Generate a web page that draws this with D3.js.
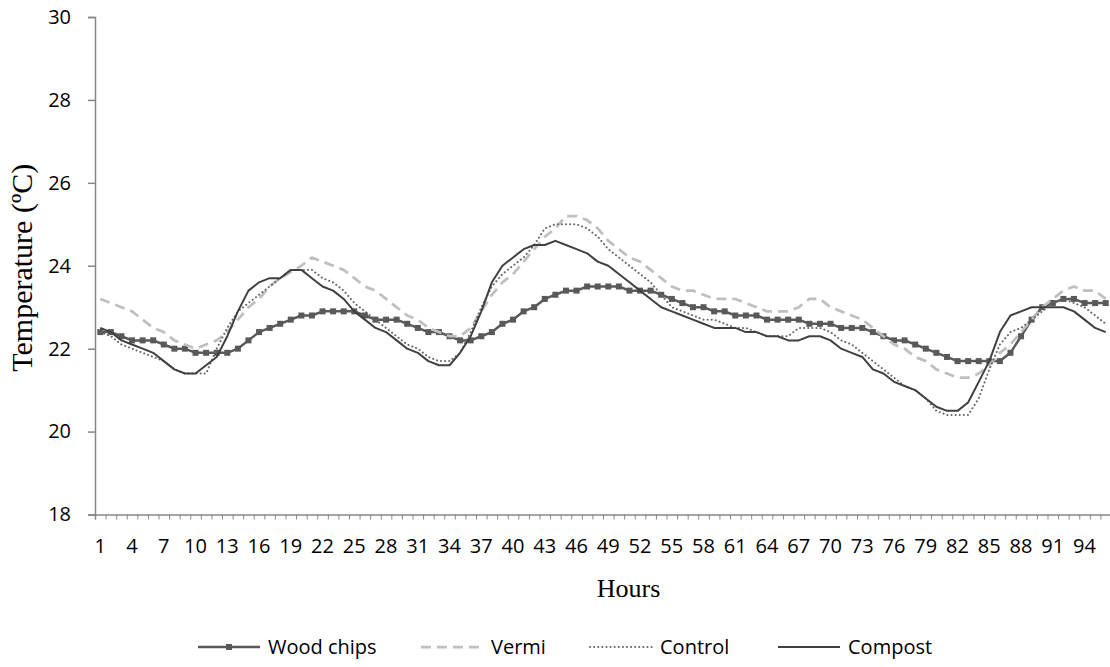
<!DOCTYPE html>
<html>
<head>
<meta charset="utf-8">
<script src="https://cdn.jsdelivr.net/npm/d3@7"></script>
<style>
  html, body { margin: 0; padding: 0; background: #fff; }
  svg { display: block; }
  .tick text { font-family: "Open Sans", sans-serif; }
</style>
</head>
<body>
<svg id="chart" width="1110" height="667"></svg>
<script>
// Hourly temperature readings (ºC) for the four treatments, hours 1-96
const hours = d3.range(1, 97);

const woodChips = [
  22.4, 22.4, 22.3, 22.2, 22.2, 22.2, 22.1, 22.0, 22.0, 21.9, 21.9, 21.9,
  21.9, 22.0, 22.2, 22.4, 22.5, 22.6, 22.7, 22.8, 22.8, 22.9, 22.9, 22.9,
  22.9, 22.8, 22.7, 22.7, 22.7, 22.6, 22.5, 22.4, 22.4, 22.3, 22.2, 22.2,
  22.3, 22.4, 22.6, 22.7, 22.9, 23.0, 23.2, 23.3, 23.4, 23.4, 23.5, 23.5,
  23.5, 23.5, 23.4, 23.4, 23.4, 23.3, 23.2, 23.1, 23.0, 23.0, 22.9, 22.9,
  22.8, 22.8, 22.8, 22.7, 22.7, 22.7, 22.7, 22.6, 22.6, 22.6, 22.5, 22.5,
  22.5, 22.4, 22.3, 22.2, 22.2, 22.1, 22.0, 21.9, 21.8, 21.7, 21.7, 21.7,
  21.7, 21.7, 21.9, 22.3, 22.7, 23.0, 23.1, 23.2, 23.2, 23.1, 23.1, 23.1
];

const vermi = [
  23.2, 23.1, 23.0, 22.9, 22.7, 22.5, 22.4, 22.2, 22.1, 22.0, 22.1, 22.2,
  22.4, 22.7, 23.0, 23.2, 23.5, 23.7, 23.85, 24.0, 24.2, 24.1, 24.0, 23.9,
  23.7, 23.5, 23.4, 23.2, 23.0, 22.8, 22.7, 22.5, 22.4, 22.3, 22.3, 22.5,
  22.9, 23.3, 23.6, 23.8, 24.1, 24.4, 24.7, 24.9, 25.2, 25.2, 25.1, 24.9,
  24.6, 24.4, 24.2, 24.1, 23.9, 23.7, 23.5, 23.4, 23.4, 23.3, 23.2, 23.2,
  23.2, 23.1, 23.0, 22.9, 22.9, 22.9, 23.0, 23.2, 23.2, 23.0, 22.9, 22.8,
  22.7, 22.5, 22.3, 22.1, 22.0, 21.8, 21.7, 21.5, 21.4, 21.3, 21.3, 21.4,
  21.6, 21.9, 22.1, 22.4, 22.7, 23.0, 23.2, 23.4, 23.5, 23.4, 23.4, 23.2
];

const control = [
  22.4, 22.3, 22.1, 22.0, 21.9, 21.8, 21.7, 21.5, 21.4, 21.4, 21.4, 22.0,
  22.5, 22.9, 23.1, 23.3, 23.5, 23.7, 23.9, 23.9, 23.9, 23.7, 23.6, 23.4,
  23.1, 22.9, 22.7, 22.5, 22.3, 22.1, 22.0, 21.8, 21.7, 21.7, 21.9, 22.4,
  23.0, 23.5, 23.8, 24.0, 24.2, 24.5, 24.9, 25.0, 25.0, 25.0, 24.9, 24.7,
  24.4, 24.2, 24.0, 23.8, 23.6, 23.3, 23.0, 22.9, 22.8, 22.7, 22.7, 22.6,
  22.5, 22.5, 22.4, 22.3, 22.3, 22.3, 22.5, 22.5, 22.5, 22.4, 22.2, 22.1,
  21.9, 21.7, 21.5, 21.3, 21.1, 21.0, 20.8, 20.5, 20.4, 20.4, 20.4, 20.8,
  21.5, 22.1, 22.4, 22.5, 22.7, 22.9, 23.1, 23.2, 23.1, 23.0, 22.8, 22.6
];

const compost = [
  22.5, 22.4, 22.2, 22.1, 22.0, 21.9, 21.7, 21.5, 21.4, 21.4, 21.6, 21.8,
  22.3, 22.9, 23.4, 23.6, 23.7, 23.7, 23.9, 23.9, 23.7, 23.5, 23.4, 23.2,
  22.9, 22.7, 22.5, 22.4, 22.2, 22.0, 21.9, 21.7, 21.6, 21.6, 21.9, 22.3,
  22.9, 23.6, 24.0, 24.2, 24.4, 24.5, 24.5, 24.6, 24.5, 24.4, 24.3, 24.1,
  24.0, 23.8, 23.6, 23.4, 23.2, 23.0, 22.9, 22.8, 22.7, 22.6, 22.5, 22.5,
  22.5, 22.4, 22.4, 22.3, 22.3, 22.2, 22.2, 22.3, 22.3, 22.2, 22.0, 21.9,
  21.8, 21.5, 21.4, 21.2, 21.1, 21.0, 20.8, 20.6, 20.5, 20.5, 20.7, 21.2,
  21.7, 22.4, 22.8, 22.9, 23.0, 23.0, 23.0, 23.0, 22.9, 22.7, 22.5, 22.4
];

const yTicks = [18, 20, 22, 24, 26, 28, 30];
const xLabelHours = hours.filter(h => (h - 1) % 3 === 0);

const seriesNames = ["Wood chips", "Vermi", "Control", "Compost"];

// Drawing styles per series
const styles = {
  "Wood chips": { color: "#595959", width: 2.5, dash: null, cap: "butt", marker: true },
  "Vermi":      { color: "#bfbfbf", width: 2.75, dash: "10,6", cap: "butt", marker: false },
  "Control":    { color: "#666666", width: 2, dash: "0.1,4", cap: "round", marker: false },
  "Compost":    { color: "#404040", width: 2, dash: null, cap: "butt", marker: false }
};

const seriesValues = {
  "Wood chips": woodChips,
  "Vermi": vermi,
  "Control": control,
  "Compost": compost
};

const svg = d3.select("#chart");
const plot = { left: 95, right: 1111, top: 17, bottom: 514.5 };

const x = d3.scaleBand().domain(hours).range([plot.left, plot.right]).padding(0);
const xc = h => x(h) + x.bandwidth() / 2;
const xEdge = d3.scaleLinear().domain([0, hours.length]).range([plot.left, plot.right]);
const y = d3.scaleLinear().domain([18, 30]).range([plot.bottom, plot.top]);

const axisColor = "#868686";
const tickFont = 20;

// Y axis
const yAxis = svg.append("g")
  .attr("transform", `translate(${plot.left},0)`)
  .call(d3.axisLeft(y).tickValues(yTicks).tickSize(7).tickPadding(17).tickFormat(d3.format("d")));
yAxis.select(".domain").attr("stroke", axisColor).attr("stroke-width", 1.5);
yAxis.selectAll(".tick line").attr("stroke", axisColor).attr("stroke-width", 1.5);
yAxis.selectAll(".tick text").attr("font-size", tickFont).attr("fill", "#000");

// X axis: tick marks between categories
const xTickAxis = svg.append("g")
  .attr("transform", `translate(0,${plot.bottom})`)
  .call(d3.axisBottom(xEdge).tickValues(d3.range(0, hours.length + 1)).tickSize(5).tickFormat(""));
xTickAxis.select(".domain").attr("stroke", axisColor).attr("stroke-width", 1.5);
xTickAxis.selectAll(".tick line").attr("stroke", axisColor).attr("stroke-width", 1);

// X axis labels every third hour
const xLabelAxis = svg.append("g")
  .attr("transform", `translate(0,${plot.bottom})`)
  .call(d3.axisBottom(x).tickValues(xLabelHours).tickSize(0).tickPadding(24));
xLabelAxis.select(".domain").remove();
xLabelAxis.selectAll(".tick text").attr("font-size", tickFont).attr("fill", "#000");

// Axis titles
svg.append("text")
  .attr("transform", `translate(32,${(plot.top + plot.bottom) / 2 + 2}) rotate(-90)`)
  .attr("text-anchor", "middle")
  .attr("font-family", "'Liberation Serif', 'Times New Roman', serif")
  .attr("font-size", 30)
  .text("Temperature (ºC)");

svg.append("text")
  .attr("x", (plot.left + 1110) / 2 + 26)
  .attr("y", 597)
  .attr("text-anchor", "middle")
  .attr("font-family", "'Liberation Serif', 'Times New Roman', serif")
  .attr("font-size", 26)
  .text("Hours");

// Series lines
const line = d3.line()
  .x((d, i) => xc(hours[i]))
  .y(d => y(d));

seriesNames.forEach(name => {
  const s = styles[name];
  svg.append("path")
    .datum(seriesValues[name])
    .attr("fill", "none")
    .attr("stroke", s.color)
    .attr("stroke-width", s.width)
    .attr("stroke-dasharray", s.dash)
    .attr("stroke-linecap", s.cap)
    .attr("stroke-linejoin", "round")
    .attr("d", line);
  if (s.marker) {
    svg.append("g").selectAll("rect")
      .data(seriesValues[name])
      .join("rect")
      .attr("x", (d, i) => xc(hours[i]) - 3)
      .attr("y", d => y(d) - 3)
      .attr("width", 6)
      .attr("height", 6)
      .attr("fill", s.color);
  }
});

// Legend
const legendY = 647;
const legendItems = [
  { name: "Wood chips", x0: 198 },
  { name: "Vermi", x0: 421 },
  { name: "Control", x0: 590 },
  { name: "Compost", x0: 778 }
];
const swatchW = 62;
const lg = svg.append("g");
legendItems.forEach(item => {
  const s = styles[item.name];
  lg.append("line")
    .attr("x1", item.x0).attr("x2", item.x0 + swatchW)
    .attr("y1", legendY).attr("y2", legendY)
    .attr("stroke", s.color)
    .attr("stroke-width", s.width)
    .attr("stroke-dasharray", s.dash)
    .attr("stroke-linecap", s.cap);
  if (s.marker) {
    lg.append("rect")
      .attr("x", item.x0 + swatchW / 2 - 3).attr("y", legendY - 3)
      .attr("width", 6).attr("height", 6)
      .attr("fill", s.color);
  }
  lg.append("text")
    .attr("x", item.x0 + swatchW + 8)
    .attr("y", legendY)
    .attr("dy", "0.35em")
    .attr("font-family", "'Open Sans', sans-serif")
    .attr("font-size", 20)
    .attr("fill", "#000")
    .text(item.name);
});
</script>
</body>
</html>
